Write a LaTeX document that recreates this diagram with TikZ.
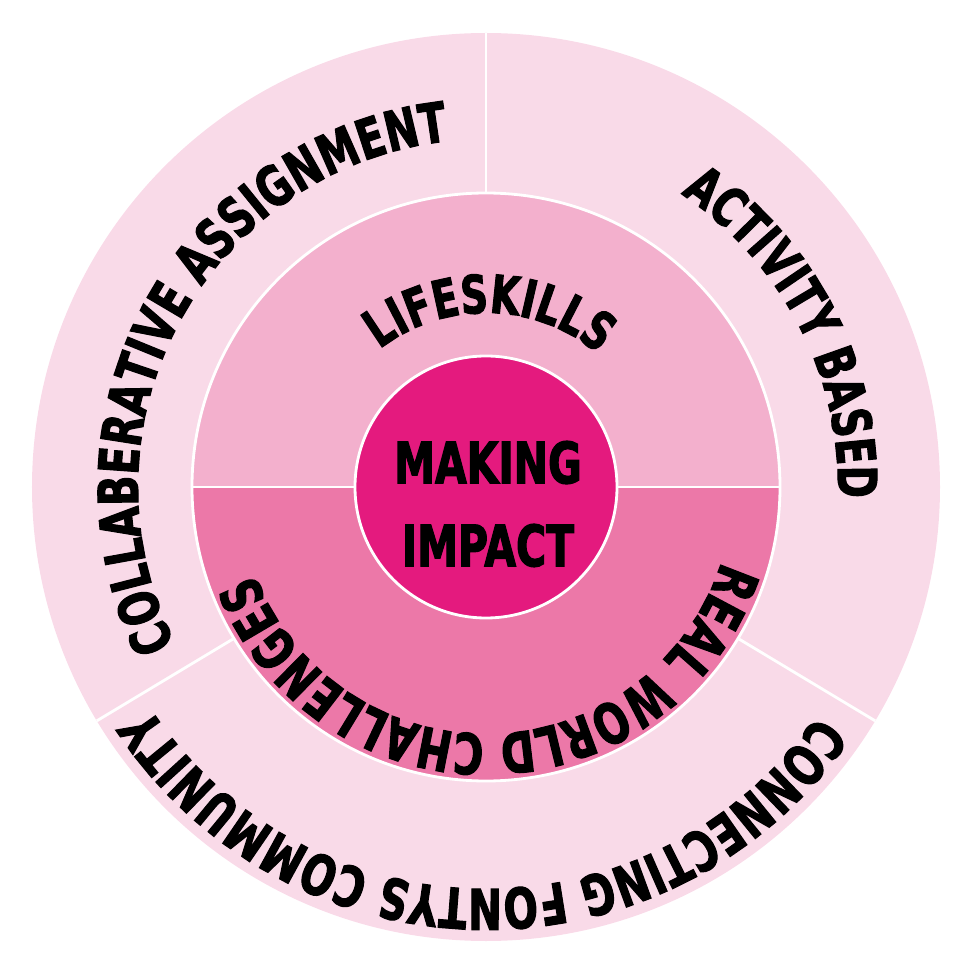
\documentclass[tikz,border=0pt]{standalone}
\usepackage{fontspec}
\newfontfamily\wheelfont[FakeStretch=0.72, FakeBold=2]{DejaVu Sans}
\usetikzlibrary{decorations.text}

\definecolor{ringouter}{RGB}{249,218,232}
\definecolor{ringupper}{RGB}{243,176,205}
\definecolor{ringlower}{RGB}{236,120,168}
\definecolor{hubpink}{RGB}{228,26,126}

\newcommand{\wheeltext}[1]{\wheelfont\bfseries\fontsize{#1}{#1}\selectfont}

\tikzset{
    divider/.style={draw=white, line width=0.8pt},
    arc text/.style 2 args={decorate, decoration={text along path,
        text align=center, text={|\wheeltext{#1}|#2}}}
}

\begin{document}
\begin{tikzpicture}
\useasboundingbox (-4.86,-4.89) rectangle (4.90,4.87);
\coordinate (c) at (0,0);

% outer ring
\fill[ringouter] (c) circle[radius=4.54];
\foreach \a in {90,-31,211}{
    \draw[divider] (\a:2.94) -- (\a:4.54);
}

% middle ring
\fill[ringupper] (2.94,0) arc[start angle=0, end angle=180, radius=2.94] -- cycle;
\fill[ringlower] (-2.94,0) arc[start angle=180, end angle=360, radius=2.94] -- cycle;
\draw[divider] (c) circle[radius=2.94];
\draw[divider] (-2.94,0) -- (2.94,0);

% hub
\draw[divider, fill=hubpink] (c) circle[radius=1.31];
\node[align=center, inner sep=0,
      font=\wheelfont\bfseries\fontsize{16.2}{23.6}\selectfont]
      (hub) at (0.02,-0.17) {MAKING\\IMPACT};

% outer labels
\path[arc text={15.3}{ACTIVITY BASED}]
    (87.3:3.52) arc[start angle=87.3, end angle=-32.7, radius=3.52];
\path[arc text={15.7}{COLLABERATIVE ASSIGNMENT}]
    (241.5:3.48) arc[start angle=241.5, end angle=61.5, radius=3.48];
\path[arc text={15.9}{CONNECTING FONTYS COMMUNITY}]
    (-0.7:4.02) arc[start angle=-0.7, end angle=-180.7, radius=4.02];

% middle labels
\path[arc text={15.0}{LIFESKILLS}]
    (148.75:1.74) arc[start angle=148.75, end angle=28.75, radius=1.74];
\path[arc text={16.0}{REAL WORLD CHALLENGES}]
    (11.5:2.47) arc[start angle=11.5, end angle=-188.5, radius=2.47];

\end{tikzpicture}
\end{document}
